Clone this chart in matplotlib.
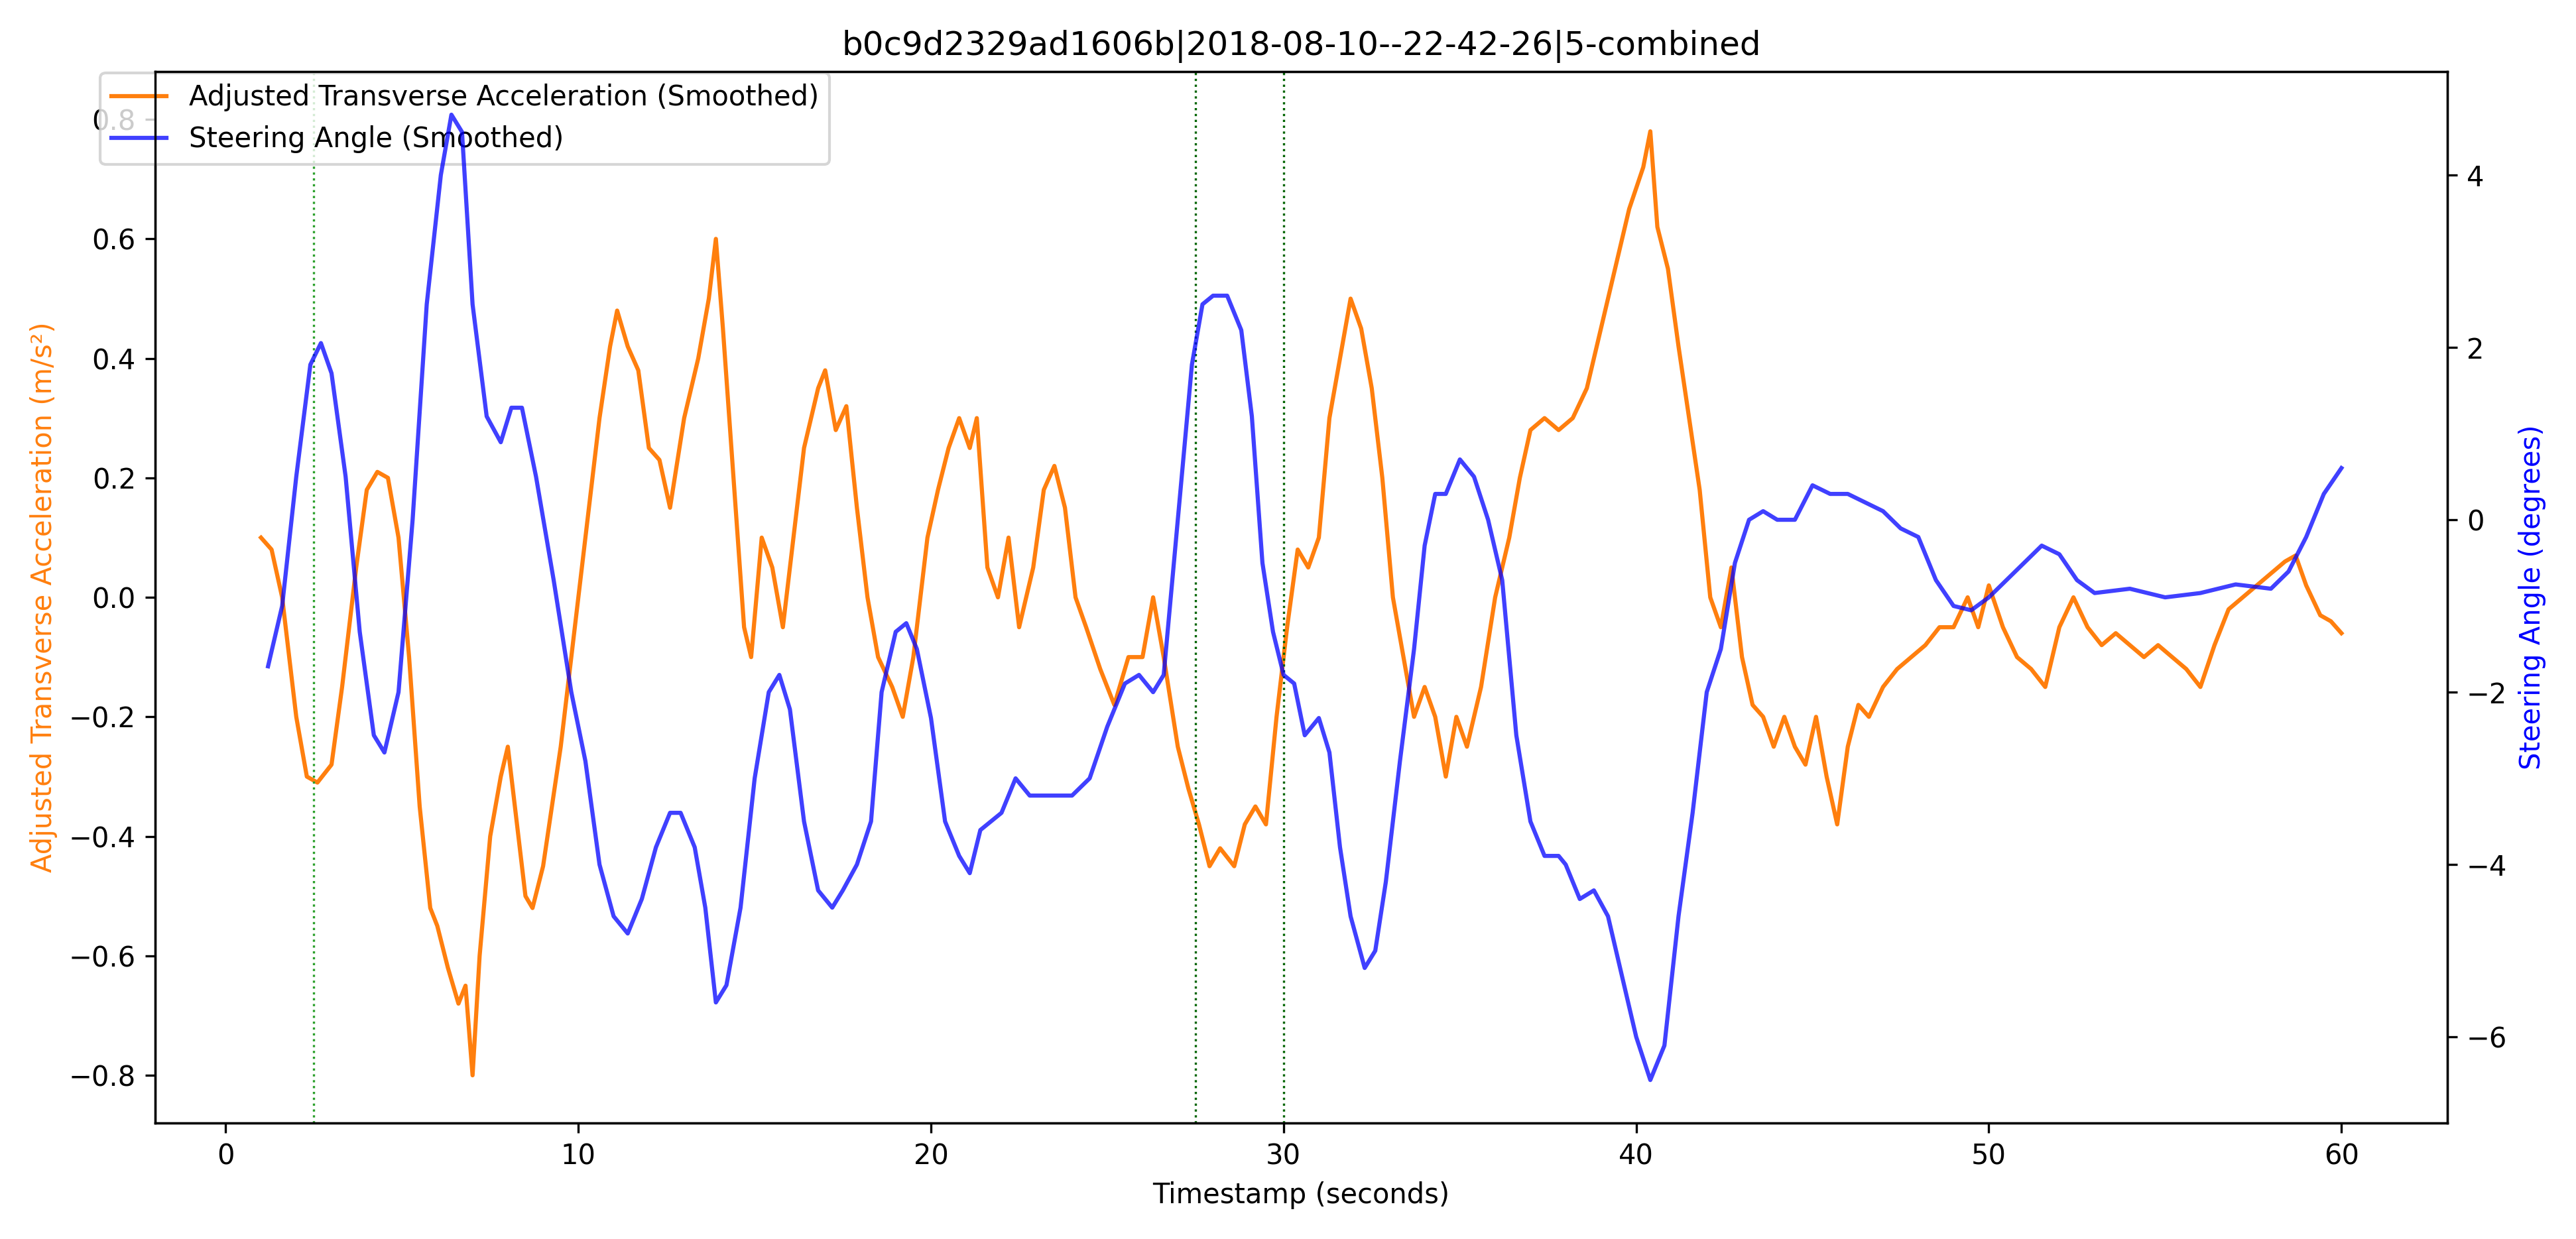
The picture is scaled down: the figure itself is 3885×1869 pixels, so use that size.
import numpy as np
import matplotlib.pyplot as plt

title = "b0c9d2329ad1606b|2018-08-10--22-42-26|5-combined"

acc_t = [1.0, 1.3, 1.6, 2.0, 2.3, 2.6, 3.0, 3.3, 3.7, 4.0, 4.3, 4.6, 4.9, 5.2, 5.5, 5.8, 6.0, 6.3, 6.6, 6.8,
         7.0, 7.2, 7.5, 7.8, 8.0, 8.2, 8.5, 8.7, 9.0, 9.5, 10.0, 10.3, 10.6, 10.9, 11.1, 11.4, 11.7, 12.0,
         12.3, 12.6, 13.0, 13.4, 13.7, 13.9, 14.1, 14.4, 14.7, 14.9, 15.2, 15.5, 15.8, 16.1, 16.4, 16.8,
         17.0, 17.3, 17.6, 17.9, 18.2, 18.5, 18.9, 19.2, 19.5, 19.9, 20.2, 20.5, 20.8, 21.1, 21.3, 21.6,
         21.9, 22.2, 22.5, 22.9, 23.2, 23.5, 23.8, 24.1, 24.4, 24.8, 25.2, 25.6, 26.0, 26.3, 26.6, 27.0,
         27.3, 27.6, 27.9, 28.2, 28.6, 28.9, 29.2, 29.5, 29.8, 30.1, 30.4, 30.7, 31.0, 31.3, 31.6, 31.9,
         32.2, 32.5, 32.8, 33.1, 33.4, 33.7, 34.0, 34.3, 34.6, 34.9, 35.2, 35.6, 36.0, 36.4, 36.7, 37.0,
         37.4, 37.8, 38.2, 38.6, 39.0, 39.4, 39.8, 40.2, 40.4, 40.6, 40.9, 41.2, 41.5, 41.8, 42.1, 42.4,
         42.7, 43.0, 43.3, 43.6, 43.9, 44.2, 44.5, 44.8, 45.1, 45.4, 45.7, 46.0, 46.3, 46.6, 47.0, 47.4,
         47.8, 48.2, 48.6, 49.0, 49.4, 49.7, 50.0, 50.4, 50.8, 51.2, 51.6, 52.0, 52.4, 52.8, 53.2, 53.6,
         54.0, 54.4, 54.8, 55.2, 55.6, 56.0, 56.4, 56.8, 57.2, 57.6, 58.0, 58.4, 58.7, 59.0, 59.4, 59.7, 60.0]
acc_v = [0.10, 0.08, 0.0, -0.2, -0.3, -0.31, -0.28, -0.15, 0.05, 0.18, 0.21, 0.20, 0.1, -0.1, -0.35, -0.52,
         -0.55, -0.62, -0.68, -0.65, -0.8, -0.6, -0.4, -0.3, -0.25, -0.35, -0.5, -0.52, -0.45, -0.25, 0.0,
         0.15, 0.3, 0.42, 0.48, 0.42, 0.38, 0.25, 0.23, 0.15, 0.3, 0.4, 0.5, 0.6, 0.45, 0.2, -0.05, -0.1,
         0.1, 0.05, -0.05, 0.1, 0.25, 0.35, 0.38, 0.28, 0.32, 0.15, 0.0, -0.1, -0.15, -0.2, -0.1, 0.1, 0.18,
         0.25, 0.3, 0.25, 0.3, 0.05, 0.0, 0.1, -0.05, 0.05, 0.18, 0.22, 0.15, 0.0, -0.05, -0.12, -0.18, -0.1,
         -0.1, 0.0, -0.1, -0.25, -0.32, -0.38, -0.45, -0.42, -0.45, -0.38, -0.35, -0.38, -0.2, -0.05, 0.08,
         0.05, 0.1, 0.3, 0.4, 0.5, 0.45, 0.35, 0.2, 0.0, -0.1, -0.2, -0.15, -0.2, -0.3, -0.2, -0.25, -0.15,
         0.0, 0.1, 0.2, 0.28, 0.3, 0.28, 0.3, 0.35, 0.45, 0.55, 0.65, 0.72, 0.78, 0.62, 0.55, 0.42, 0.3, 0.18,
         0.0, -0.05, 0.05, -0.1, -0.18, -0.2, -0.25, -0.2, -0.25, -0.28, -0.2, -0.3, -0.38, -0.25, -0.18,
         -0.2, -0.15, -0.12, -0.1, -0.08, -0.05, -0.05, 0.0, -0.05, 0.02, -0.05, -0.1, -0.12, -0.15, -0.05,
         0.0, -0.05, -0.08, -0.06, -0.08, -0.1, -0.08, -0.1, -0.12, -0.15, -0.08, -0.02, 0.0, 0.02, 0.04,
         0.06, 0.07, 0.02, -0.03, -0.04, -0.06]

steer_t = [1.2, 1.6, 2.0, 2.4, 2.7, 3.0, 3.4, 3.8, 4.2, 4.5, 4.9, 5.3, 5.7, 6.1, 6.4, 6.7, 7.0, 7.4, 7.8,
           8.1, 8.4, 8.8, 9.3, 9.8, 10.2, 10.6, 11.0, 11.4, 11.8, 12.2, 12.6, 12.9, 13.3, 13.6, 13.9, 14.2,
           14.6, 15.0, 15.4, 15.7, 16.0, 16.4, 16.8, 17.2, 17.5, 17.9, 18.3, 18.6, 19.0, 19.3, 19.6, 20.0,
           20.4, 20.8, 21.1, 21.4, 21.7, 22.0, 22.4, 22.8, 23.2, 23.6, 24.0, 24.5, 25.0, 25.5, 25.9, 26.3,
           26.6, 27.0, 27.4, 27.7, 28.0, 28.4, 28.8, 29.1, 29.4, 29.7, 30.0, 30.3, 30.6, 31.0, 31.3, 31.6,
           31.9, 32.3, 32.6, 32.9, 33.3, 33.7, 34.0, 34.3, 34.6, 35.0, 35.4, 35.8, 36.2, 36.6, 37.0, 37.4,
           37.8, 38.0, 38.4, 38.8, 39.2, 39.6, 40.0, 40.4, 40.8, 41.2, 41.6, 42.0, 42.4, 42.8, 43.2, 43.6,
           44.0, 44.5, 45.0, 45.5, 46.0, 46.5, 47.0, 47.5, 48.0, 48.5, 49.0, 49.5, 50.0, 50.5, 51.0, 51.5,
           52.0, 52.5, 53.0, 54.0, 55.0, 56.0, 57.0, 58.0, 58.5, 59.0, 59.5, 60.0]
steer_v = [-1.7, -1.0, 0.5, 1.8, 2.05, 1.7, 0.5, -1.3, -2.5, -2.7, -2.0, 0.0, 2.5, 4.0, 4.7, 4.5, 2.5, 1.2,
           0.9, 1.3, 1.3, 0.5, -0.7, -2.0, -2.8, -4.0, -4.6, -4.8, -4.4, -3.8, -3.4, -3.4, -3.8, -4.5, -5.6,
           -5.4, -4.5, -3.0, -2.0, -1.8, -2.2, -3.5, -4.3, -4.5, -4.3, -4.0, -3.5, -2.0, -1.3, -1.2, -1.5,
           -2.3, -3.5, -3.9, -4.1, -3.6, -3.5, -3.4, -3.0, -3.2, -3.2, -3.2, -3.2, -3.0, -2.4, -1.9, -1.8,
           -2.0, -1.8, 0.0, 1.8, 2.5, 2.6, 2.6, 2.2, 1.2, -0.5, -1.3, -1.8, -1.9, -2.5, -2.3, -2.7, -3.8,
           -4.6, -5.2, -5.0, -4.2, -2.8, -1.5, -0.3, 0.3, 0.3, 0.7, 0.5, 0.0, -0.7, -2.5, -3.5, -3.9, -3.9,
           -4.0, -4.4, -4.3, -4.6, -5.3, -6.0, -6.5, -6.1, -4.6, -3.4, -2.0, -1.5, -0.5, 0.0, 0.1, 0.0, 0.0,
           0.4, 0.3, 0.3, 0.2, 0.1, -0.1, -0.2, -0.7, -1.0, -1.05, -0.9, -0.7, -0.5, -0.3, -0.4, -0.7, -0.85,
           -0.8, -0.9, -0.85, -0.75, -0.8, -0.6, -0.2, 0.3, 0.6]

events = [2.5, 27.5, 30.0]
event_colors = ["tab:green", "darkgreen", "darkgreen"]

fig, ax1 = plt.subplots(figsize=(12.95, 6.23), dpi=300)
l1, = ax1.plot(acc_t, acc_v, color="tab:orange", label="Adjusted Transverse Acceleration (Smoothed)")
ax1.set_xlabel("Timestamp (seconds)")
ax1.set_ylabel("Adjusted Transverse Acceleration (m/s²)", color="tab:orange")
ax1.set_xlim(-2, 63)
ax1.set_ylim(-0.88, 0.88)
for t, c in zip(events, event_colors):
    ax1.axvline(t, color=c, linestyle=":", linewidth=0.8)

ax2 = ax1.twinx()
l2, = ax2.plot(steer_t, steer_v, color="blue", alpha=0.75, label="Steering Angle (Smoothed)")
ax2.set_ylabel("Steering Angle (degrees)", color="blue")
ax2.set_ylim(-7.0, 5.2)

ax1.set_title(title)
ax1.legend(handles=[l1, l2], loc="upper left", bbox_to_anchor=(-0.03, 1.012))
fig.tight_layout()
fig.savefig("out.png")
